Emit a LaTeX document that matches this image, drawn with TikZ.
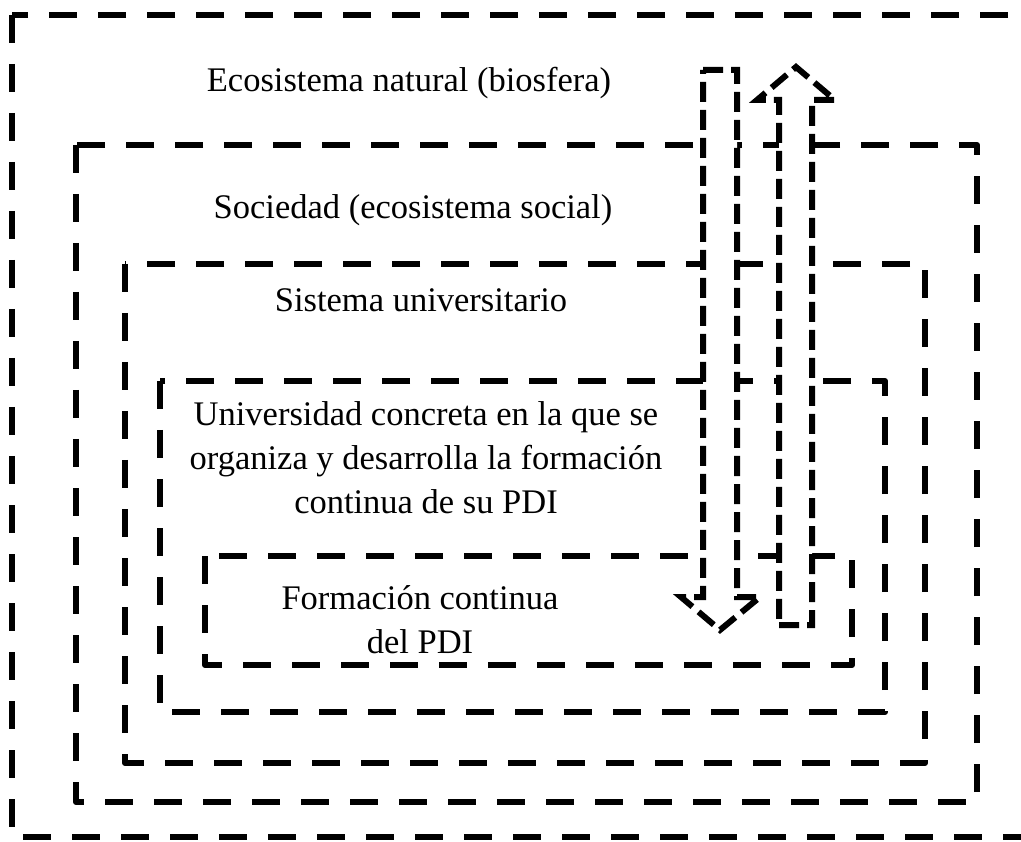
\documentclass[tikz,border=0pt]{standalone}
\usepackage{fontspec}
\setmainfont{Liberation Serif}
\begin{document}
\begin{tikzpicture}[x=1pt,y=-1pt,
  boxline/.style={line width=6pt, dash pattern=on 28pt off 21pt, line join=round},
  arrline/.style={line width=6pt, dash pattern=on 20pt off 8pt, fill=white, line join=miter},
  lbl/.style={font=\fontsize{34.5}{44}\selectfont, align=center, inner sep=0pt}]
\useasboundingbox (0,0) rectangle (1021,842);
\clip (0,0) rectangle (1021,842);
% nested boxes
\draw[boxline] (12,15) rectangle (1060,837);
\draw[boxline] (76,145) rectangle (977,802);
\draw[boxline] (125,264) rectangle (925,763);
\draw[boxline] (160,381) rectangle (885,712);
\draw[boxline] (205,556) rectangle (852,665);
% labels
\node[lbl] (eco) at (409,83) {Ecosistema natural (biosfera)};
\node[lbl] (soc) at (413,210) {Sociedad (ecosistema social)};
\node[lbl] (sis) at (421,300) {Sistema universitario};
\node[lbl] (uni) at (426,458) {Universidad concreta en la que se\\organiza y desarrolla la formación\\continua de su PDI};
\node[lbl] (for) at (420,620) {Formación continua\\del PDI};
% down arrow
\draw[arrline] (703,70) -- (737,70) -- (737,597) -- (760,597) -- (720,630)
  -- (681,597) -- (703,597) -- cycle;
% up arrow
\draw[arrline] (779,625) -- (812,625) -- (812,100) -- (835,100) -- (796,67)
  -- (757,100) -- (779,100) -- cycle;
\end{tikzpicture}
\end{document}
